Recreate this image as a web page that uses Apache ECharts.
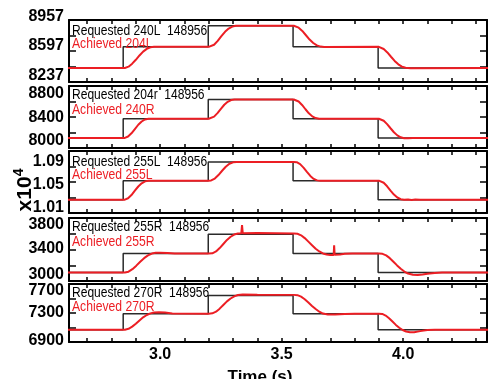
<!DOCTYPE html>
<html>
<head>
<meta charset="utf-8">
<script src="https://cdn.jsdelivr.net/npm/echarts@6/dist/echarts.min.js"></script>
<style>
  html, body { margin: 0; padding: 0; background: #fff; }
  #chart { width: 488px; height: 379px; }
</style>
</head>
<body>
<div id="chart"></div>
<script>
// step times of the requested waveform (s)
const reqTimes = [2.60, 2.848, 2.848, 3.198, 3.198, 3.547, 3.547, 3.897, 3.897, 4.40];

const reqNames = ['240L', '204r', '255L', '255R', '270R'];
const achNames = ['204L', '240R', '255L', '255R', '270R'];
const shot = '148956';

// y axis of each panel: bottom value, span, tick labels (bottom, mid, top)
const axisBase = [8237, 8000, 10100, 3000, 6900];
const axisSpan = [720, 800, 800, 800, 800];
const tickLabels = [
  ['8237', '8597', '8957'],
  ['8000', '8400', '8800'],
  ['1.01', '1.05', '1.09'],
  ['3000', '3400', '3800'],
  ['6900', '7300', '7700']
];
const xTickValues = [3.0, 3.5, 4.0];
const xTickLabels = ['3.0', '3.5', '4.0'];

// requested levels, one per reqTimes point
const req240L = [8400, 8400, 8645, 8645, 8890, 8890, 8645, 8645, 8400, 8400];
const req204r = [8130, 8130, 8378, 8378, 8626, 8626, 8378, 8378, 8130, 8130];
const req255L = [10272, 10272, 10517, 10517, 10758, 10758, 10517, 10517, 10272, 10272];
const req255R = [3107, 3107, 3348, 3348, 3594, 3594, 3348, 3348, 3107, 3107];
const req270R = [7070, 7070, 7290, 7290, 7540, 7540, 7290, 7290, 7070, 7070];

// achieved traces [t, value]
const ach204L = [[2.62,8400],[2.855,8400],[2.87,8415],[2.885,8450],[2.90,8495],[2.915,8545],[2.93,8590],[2.945,8622],[2.96,8640],[2.975,8646],[3.20,8645],
  [3.208,8648],[3.222,8670],[3.237,8715],[3.252,8770],[3.267,8820],[3.282,8858],[3.297,8880],[3.312,8890],[3.55,8890],
  [3.555,8888],[3.57,8868],[3.585,8830],[3.60,8780],[3.615,8730],[3.63,8690],[3.645,8662],[3.66,8648],[3.675,8644],[3.90,8645],
  [3.905,8642],[3.92,8620],[3.935,8580],[3.95,8530],[3.965,8482],[3.98,8442],[3.995,8415],[4.01,8402],[4.03,8398],[4.36,8400]];
const ach240R = [[2.62,8130],[2.855,8130],[2.868,8148],[2.882,8190],[2.896,8245],[2.91,8300],[2.924,8342],[2.938,8368],[2.952,8378],[3.20,8378],
  [3.208,8381],[3.222,8405],[3.236,8450],[3.25,8505],[3.264,8558],[3.278,8596],[3.292,8618],[3.306,8626],[3.55,8626],
  [3.556,8623],[3.57,8600],[3.584,8555],[3.598,8500],[3.612,8448],[3.626,8408],[3.64,8386],[3.654,8377],[3.67,8376],[3.90,8378],
  [3.906,8375],[3.92,8352],[3.934,8308],[3.948,8255],[3.962,8203],[3.976,8163],[3.99,8138],[4.004,8126],[4.02,8125],[4.04,8129],[4.36,8130]];
const ach255L = [[2.62,10272],[2.855,10272],[2.868,10290],[2.882,10332],[2.896,10388],[2.91,10442],[2.924,10483],[2.938,10508],[2.952,10517],[3.20,10517],
  [3.21,10520],[3.225,10545],[3.24,10590],[3.255,10645],[3.27,10697],[3.285,10735],[3.30,10754],[3.315,10758],[3.55,10758],
  [3.562,10755],[3.576,10730],[3.59,10685],[3.604,10630],[3.618,10578],[3.632,10540],[3.646,10521],[3.66,10516],[3.90,10517],
  [3.906,10514],[3.92,10490],[3.934,10445],[3.948,10390],[3.962,10338],[3.976,10300],[3.99,10278],[4.004,10270],[4.02,10274],[4.035,10268],[4.05,10275],[4.07,10272],[4.36,10272]];
const ach255R = [[2.62,3107],[2.855,3107],[2.87,3118],[2.886,3150],[2.902,3195],[2.918,3245],[2.934,3290],[2.95,3325],[2.966,3348],[2.982,3358],[3.0,3360],[3.03,3356],[3.06,3350],[3.20,3348],
  [3.215,3352],[3.23,3375],[3.245,3418],[3.26,3470],[3.275,3522],[3.29,3562],[3.305,3590],[3.32,3603],[3.334,3606],[3.337,3710],[3.340,3606],[3.40,3608],[3.55,3604],
  [3.565,3600],[3.58,3580],[3.595,3545],[3.61,3500],[3.625,3455],[3.64,3410],[3.655,3375],[3.67,3350],[3.685,3336],[3.70,3330],[3.714,3330],[3.716,3452],[3.718,3332],[3.74,3336],[3.76,3345],[3.79,3348],[3.90,3348],
  [3.915,3345],[3.93,3325],[3.945,3290],[3.96,3245],[3.975,3198],[3.99,3155],[4.005,3120],[4.02,3095],[4.04,3080],[4.06,3077],[4.08,3083],[4.10,3093],[4.13,3102],[4.16,3107],[4.36,3107]];
const ach270R = [[2.62,7070],[2.855,7070],[2.87,7082],[2.885,7112],[2.90,7152],[2.915,7198],[2.93,7240],[2.945,7272],[2.96,7295],[2.975,7308],[2.995,7312],[3.02,7306],[3.05,7294],[3.20,7290],
  [3.215,7295],[3.23,7318],[3.245,7360],[3.26,7410],[3.275,7460],[3.29,7500],[3.305,7530],[3.32,7548],[3.34,7555],[3.40,7553],[3.55,7550],
  [3.565,7546],[3.58,7525],[3.595,7490],[3.61,7445],[3.625,7398],[3.64,7355],[3.655,7318],[3.67,7292],[3.69,7280],[3.72,7280],[3.76,7286],[3.80,7290],[3.90,7290],
  [3.914,7287],[3.928,7265],[3.942,7228],[3.956,7182],[3.97,7136],[3.984,7096],[3.998,7065],[4.012,7045],[4.028,7035],[4.045,7036],[4.07,7050],[4.10,7064],[4.13,7070],[4.36,7070]];

const reqLevels = [req240L, req204r, req255L, req255R, req270R];
const achieved = [ach204L, ach240R, ach255L, ach255R, ach270R];

// layout
const gridTops = [20, 86, 151, 218, 284];
const gridHeights = [62, 62, 62, 63, 58];
const labelShift = [[-6, -5.5, -3.5], [-7, 0.5, 7.5], [-5.5, 2.5, 11], [-6, -1, 6.5], [-1.5, 0, 7]];
const reqTextY = [31, 95.5, 162, 227, 293];
const achTextY = [44.5, 110, 175.5, 242.5, 307.5];
const FONT = '"Liberation Sans", Arial, Helvetica, sans-serif';
const RED = 'rgb(236,30,36)';

const chart = echarts.init(document.getElementById('chart'));

function labelTok(d) {
  return {
    fontSize: 16, fontWeight: 'bold', fontFamily: FONT, color: '#000',
    padding: d > 0 ? [2 * d, 0, 0, 0] : [0, 0, -2 * d, 0]
  };
}

const grids = [], xAxes = [], yAxes = [], series = [], graphics = [];
for (let i = 0; i < 5; i++) {
  grids.push({left: 69, right: 1, top: gridTops[i], height: gridHeights[i], outerBoundsMode: 'none'});
  const last = i === 4;
  ['bottom', 'top'].forEach(pos => {
    const isLabelAxis = last && pos === 'bottom';
    xAxes.push({
      type: 'value', gridIndex: i, position: pos,
      min: 2.625, max: 4.345, splitNumber: 17,
      axisLine: {show: true, onZero: false, lineStyle: {color: '#000', width: 2}},
      axisTick: {show: true, inside: true, length: 4, lineStyle: {color: '#000', width: 1.5}},
      splitLine: {show: false},
      axisLabel: {
        show: isLabelAxis, margin: 5, fontSize: 16, fontWeight: 'bold', fontFamily: FONT, color: '#000',
        showMinLabel: false, showMaxLabel: false,
        formatter: function (v) {
          for (let k = 0; k < xTickValues.length; k++) {
            if (Math.abs(v - xTickValues[k]) < 1e-6) return xTickLabels[k];
          }
          return '';
        }
      },
      name: isLabelAxis ? 'Time (s)' : '',
      nameLocation: 'middle', nameGap: 27,
      nameTextStyle: {fontSize: 17, fontWeight: 'bold', fontFamily: FONT, color: '#000', padding: [0, 36, 0, 0]}
    });
  });
  const span = axisSpan[i];
  const labs = tickLabels[i];
  const sh = labelShift[i];
  ['left', 'right'].forEach(pos => {
    yAxes.push({
      type: 'value', gridIndex: i, position: pos,
      min: 0, max: span, interval: span / 4,
      axisLine: {show: true, onZero: false, lineStyle: {color: '#000', width: 2}},
      axisTick: {show: true, inside: true, length: 7, lineStyle: {color: '#000', width: 1.5}},
      splitLine: {show: false},
      axisLabel: {
        show: pos === 'left', margin: 5,
        formatter: function (value) {
          const k = [0, span / 2, span].indexOf(value);
          return k < 0 ? '' : '{s' + k + '|' + labs[k] + '}';
        },
        rich: {s0: labelTok(sh[0]), s1: labelTok(sh[1]), s2: labelTok(sh[2])}
      }
    });
  });
  const base = axisBase[i];
  series.push({
    type: 'line', xAxisIndex: 2 * i, yAxisIndex: 2 * i,
    data: reqTimes.map((t, k) => [t, reqLevels[i][k] - base]),
    showSymbol: false, symbol: 'none', z: 2,
    lineStyle: {color: '#2a2a2a', width: 1.5}
  });
  series.push({
    type: 'line', xAxisIndex: 2 * i, yAxisIndex: 2 * i,
    data: achieved[i].map(p => [p[0], p[1] - base]),
    showSymbol: false, symbol: 'none', z: 3,
    lineStyle: {color: RED, width: 2}
  });
  graphics.push({
    type: 'text', x: 72, y: reqTextY[i], scaleX: 0.86, z: 100,
    style: {text: 'Requested ' + reqNames[i] + '  ' + shot, font: '14px ' + FONT, fill: '#000',
      align: 'left', verticalAlign: 'middle'}
  });
  graphics.push({
    type: 'text', x: 72, y: achTextY[i], scaleX: 0.87, z: 100,
    style: {text: 'Achieved ' + achNames[i], font: '14px ' + FONT, fill: RED,
      align: 'left', verticalAlign: 'middle'}
  });
}

// x10^4 multiplier beside the middle panel
graphics.push({
  type: 'text', x: 24, y: 190, rotation: Math.PI / 2, z: 100,
  style: {
    text: '{b|x10}{sup|4}',
    rich: {
      b: {fontSize: 21, fontWeight: 'bold', fontFamily: FONT, fill: '#000', lineHeight: 24, verticalAlign: 'bottom'},
      sup: {fontSize: 14, fontWeight: 'bold', fontFamily: FONT, fill: '#000', lineHeight: 24, verticalAlign: 'top'}
    },
    align: 'center', verticalAlign: 'middle'
  }
});

chart.setOption({
  animation: false,
  backgroundColor: '#fff',
  grid: grids,
  xAxis: xAxes,
  yAxis: yAxes,
  series: series,
  graphic: graphics
});
</script>
</body>
</html>
